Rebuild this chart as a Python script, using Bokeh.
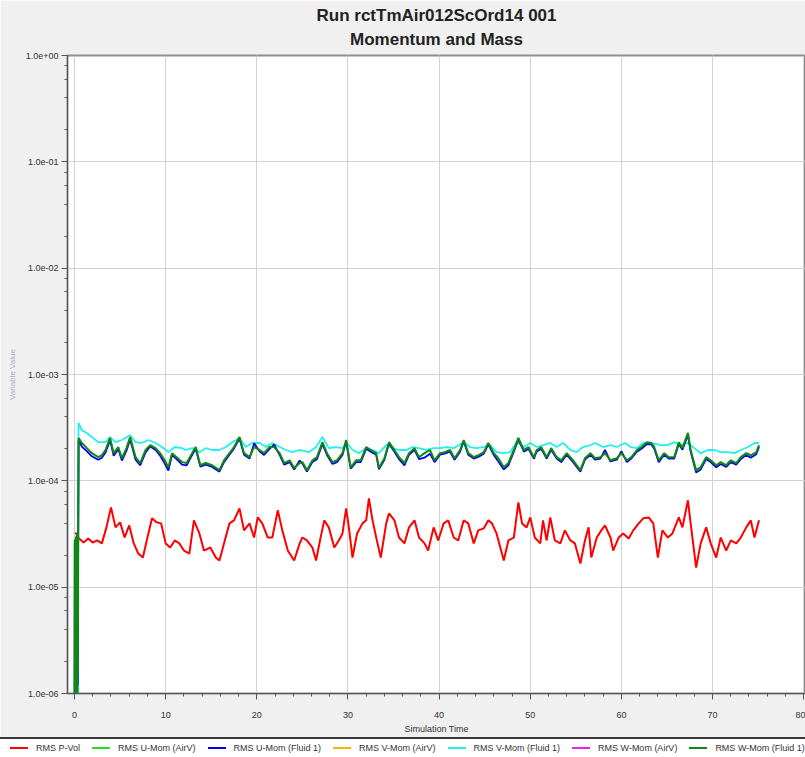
from bokeh.plotting import figure
from bokeh.models import Range1d, FixedTicker, CustomJSTickFormatter, Div, Title
from bokeh.layouts import column
from bokeh.embed import file_html
from bokeh.resources import INLINE

# ---------------------------------------------------------------- data
# RMS residual histories against simulation time

pvol_t = [0.1, 0.5, 1.0, 1.5, 2.0, 2.5, 3.0, 3.5, 4.0, 4.5, 5.0, 5.5, 6.0, 6.5, 7.0, 7.5,
          8.0, 8.5, 9.0, 9.5, 10.0, 10.5, 11.0, 11.5, 12.0, 12.6, 13.1, 13.7, 14.2, 14.9,
          15.5, 15.9, 16.4, 17.0, 17.5, 18.1, 18.6, 19.2, 19.7, 20.1, 20.6, 21.2, 21.7,
          22.3, 22.8, 23.4, 24.1, 24.7, 25.0, 25.5, 26.1, 26.5, 27.0, 27.4, 27.9, 28.5,
          29.0, 29.4, 29.8, 30.1, 30.5, 31.0, 31.6, 32.0, 32.3, 32.7, 33.1, 33.6, 34.2,
          34.5, 35.1, 35.6, 36.2, 36.7, 37.3, 37.8, 38.4, 38.8, 39.4, 39.9, 40.5, 41.0,
          41.6, 42.1, 42.7, 43.2, 43.8, 44.3, 44.9, 45.4, 45.8, 46.3, 47.1, 47.6, 48.2,
          48.7, 49.1, 49.6, 50.0, 50.5, 51.1, 51.4, 51.8, 52.2, 52.7, 53.3, 53.8, 54.4,
          54.9, 55.5, 56.0, 56.4, 56.7, 57.3, 57.8, 58.2, 58.8, 59.1, 59.7, 60.2, 60.8,
          61.3, 61.9, 62.4, 63.0, 63.5, 64.0, 64.5, 65.1, 65.6, 66.3, 66.7, 67.3, 67.6,
          68.2, 68.7, 69.3, 69.8, 70.4, 70.9, 71.5, 72.0, 72.6, 73.1, 73.7, 74.2, 74.6, 75.1]
pvol_v = [3.27e-5, 2.87e-5, 2.63e-5, 2.87e-5, 2.63e-5, 2.75e-5, 2.58e-5, 3.65e-5, 5.63e-5,
          3.65e-5, 4.07e-5, 2.93e-5, 3.81e-5, 2.58e-5, 2.07e-5, 1.90e-5, 2.93e-5, 4.44e-5,
          4.07e-5, 3.98e-5, 2.58e-5, 2.36e-5, 2.75e-5, 2.58e-5, 2.21e-5, 2.07e-5, 4.25e-5,
          3.20e-5, 2.21e-5, 2.36e-5, 1.90e-5, 1.78e-5, 2.58e-5, 3.98e-5, 4.25e-5, 5.51e-5,
          3.42e-5, 3.98e-5, 2.93e-5, 4.53e-5, 3.98e-5, 2.93e-5, 2.93e-5, 5.28e-5, 3.42e-5,
          2.21e-5, 1.78e-5, 2.58e-5, 2.93e-5, 2.75e-5, 2.36e-5, 1.78e-5, 2.93e-5, 4.25e-5,
          3.65e-5, 2.36e-5, 2.75e-5, 3.20e-5, 5.51e-5, 3.65e-5, 1.90e-5, 3.20e-5, 3.98e-5,
          4.25e-5, 6.85e-5, 4.25e-5, 2.93e-5, 1.90e-5, 3.98e-5, 4.94e-5, 4.25e-5, 2.93e-5,
          2.58e-5, 3.65e-5, 4.25e-5, 2.93e-5, 2.58e-5, 2.21e-5, 3.65e-5, 2.75e-5, 3.98e-5,
          4.25e-5, 2.93e-5, 2.75e-5, 4.25e-5, 3.98e-5, 2.58e-5, 3.42e-5, 3.57e-5, 4.25e-5,
          3.98e-5, 3.20e-5, 1.78e-5, 2.75e-5, 2.93e-5, 6.28e-5, 3.98e-5, 3.65e-5, 4.53e-5,
          2.93e-5, 2.58e-5, 4.25e-5, 2.75e-5, 4.53e-5, 2.75e-5, 2.58e-5, 3.42e-5, 2.75e-5,
          2.58e-5, 1.67e-5, 2.75e-5, 3.65e-5, 1.90e-5, 2.93e-5, 3.42e-5, 3.81e-5, 2.93e-5,
          2.21e-5, 2.93e-5, 3.20e-5, 2.87e-5, 3.42e-5, 3.98e-5, 4.44e-5, 4.53e-5, 3.98e-5,
          1.90e-5, 3.42e-5, 2.93e-5, 3.20e-5, 4.53e-5, 3.65e-5, 6.56e-5, 3.98e-5, 1.53e-5,
          2.58e-5, 3.65e-5, 2.58e-5, 1.90e-5, 2.93e-5, 2.21e-5, 2.75e-5, 2.58e-5, 2.93e-5,
          3.65e-5, 4.25e-5, 2.93e-5, 4.25e-5]

# U- and W-momentum (Fluid 1) share the same output times
fluid_t = [0.0, 0.03, 0.06, 0.09, 0.12, 0.15, 0.18, 0.21, 0.24, 0.27, 0.30, 0.33, 0.36, 0.40,
           0.45, 0.8, 1.35, 1.9, 2.6, 3.0, 3.4, 3.9, 4.3, 4.8, 5.2, 5.7, 6.1, 6.7, 7.2, 7.8,
           8.3, 8.9, 9.4, 9.9, 10.3, 10.7, 11.2, 11.8, 12.3, 12.9, 13.3, 13.8, 14.4, 15.1,
           15.9, 16.4, 17.0, 17.5, 18.1, 18.6, 19.2, 19.7, 20.3, 20.8, 21.4, 21.9, 22.5,
           23.0, 23.6, 24.1, 24.7, 25.0, 25.5, 26.1, 26.6, 27.2, 27.7, 28.3, 28.8, 29.4,
           29.8, 30.3, 30.9, 31.4, 32.0, 32.5, 33.1, 33.4, 34.0, 34.5, 35.1, 35.6, 36.2,
           36.7, 37.3, 37.8, 38.4, 39.0, 39.5, 40.1, 40.6, 41.2, 41.7, 42.3, 42.7, 43.2,
           43.8, 44.3, 44.9, 45.4, 46.0, 46.5, 47.1, 47.6, 48.2, 48.7, 49.3, 49.8, 50.4,
           50.7, 51.2, 51.8, 52.3, 52.9, 53.4, 54.0, 54.7, 55.5, 56.0, 56.6, 57.1, 57.7,
           58.2, 58.8, 59.5, 60.0, 60.6, 61.1, 61.7, 62.2, 62.8, 63.3, 63.6, 64.1, 64.7,
           65.2, 65.8, 66.3, 66.7, 67.3, 67.6, 68.2, 68.7, 69.3, 69.8, 70.4, 70.9, 71.5,
           72.0, 72.6, 73.1, 73.7, 74.2, 74.8, 75.1]
wmom_v = [4e-7, 2.8e-5, 5e-7, 1.5e-5, 4e-7, 3.0e-5, 6e-7, 2.0e-5, 5e-7, 3.2e-5, 8e-7, 2.5e-5,
          1.5e-6, 3.0e-5,
          2.53e-4, 2.27e-4, 2.03e-4, 1.82e-4, 1.67e-4, 1.74e-4, 1.95e-4, 2.53e-4, 1.82e-4,
          2.08e-4, 1.63e-4, 2.03e-4, 2.58e-4, 1.67e-4, 1.47e-4, 1.95e-4, 2.17e-4, 2.03e-4,
          1.82e-4, 1.56e-4, 1.34e-4, 1.82e-4, 1.67e-4, 1.50e-4, 1.47e-4, 1.82e-4, 2.08e-4,
          1.40e-4, 1.47e-4, 1.40e-4, 1.26e-4, 1.56e-4, 1.82e-4, 2.08e-4, 2.58e-4, 1.82e-4,
          1.67e-4, 2.08e-4, 1.95e-4, 1.82e-4, 2.08e-4, 2.08e-4, 1.82e-4, 1.47e-4, 1.56e-4,
          1.32e-4, 1.47e-4, 1.50e-4, 1.26e-4, 1.56e-4, 1.67e-4, 2.31e-4, 1.82e-4, 1.50e-4,
          1.56e-4, 1.82e-4, 2.42e-4, 1.34e-4, 1.56e-4, 1.56e-4, 2.08e-4, 1.95e-4, 1.82e-4,
          1.32e-4, 1.63e-4, 2.31e-4, 1.95e-4, 1.67e-4, 1.47e-4, 1.82e-4, 2.03e-4, 1.67e-4,
          1.82e-4, 1.95e-4, 1.56e-4, 1.82e-4, 1.86e-4, 1.95e-4, 1.63e-4, 1.95e-4, 2.42e-4,
          1.82e-4, 1.67e-4, 1.74e-4, 1.86e-4, 2.27e-4, 1.82e-4, 1.63e-4, 1.34e-4, 1.47e-4,
          1.95e-4, 2.53e-4, 1.95e-4, 2.08e-4, 1.67e-4, 1.95e-4, 2.08e-4, 1.67e-4, 2.03e-4,
          1.67e-4, 1.56e-4, 1.82e-4, 1.56e-4, 1.26e-4, 1.63e-4, 1.82e-4, 1.63e-4, 1.67e-4,
          1.82e-4, 1.56e-4, 1.63e-4, 1.82e-4, 1.56e-4, 1.67e-4, 1.95e-4, 2.08e-4, 2.31e-4,
          2.27e-4, 2.08e-4, 1.56e-4, 1.82e-4, 1.67e-4, 1.67e-4, 2.31e-4, 2.03e-4, 2.82e-4,
          1.95e-4, 1.26e-4, 1.34e-4, 1.67e-4, 1.56e-4, 1.40e-4, 1.50e-4, 1.40e-4, 1.56e-4,
          1.47e-4, 1.67e-4, 1.82e-4, 1.74e-4, 1.86e-4, 2.17e-4]
umom_v = [5e-7, 2.6e-5, 4e-7, 1.8e-5, 5e-7, 2.7e-5, 5e-7, 2.2e-5, 6e-7, 3.0e-5, 7e-7, 2.4e-5,
          1.2e-6, 2.8e-5,
          2.45e-4, 2.10e-4, 1.90e-4, 1.70e-4, 1.58e-4, 1.65e-4, 1.85e-4, 2.40e-4, 1.72e-4,
          1.98e-4, 1.55e-4, 1.92e-4, 2.45e-4, 1.58e-4, 1.40e-4, 1.85e-4, 2.10e-4, 1.95e-4,
          1.72e-4, 1.45e-4, 1.25e-4, 1.75e-4, 1.60e-4, 1.42e-4, 1.40e-4, 1.75e-4, 2.00e-4,
          1.36e-4, 1.42e-4, 1.35e-4, 1.22e-4, 1.50e-4, 1.76e-4, 2.02e-4, 2.50e-4, 1.76e-4,
          1.62e-4, 2.25e-4, 1.90e-4, 1.75e-4, 2.00e-4, 2.20e-4, 1.75e-4, 1.42e-4, 1.50e-4,
          1.28e-4, 1.55e-4, 1.45e-4, 1.22e-4, 1.50e-4, 1.60e-4, 2.22e-4, 1.75e-4, 1.44e-4,
          1.50e-4, 1.75e-4, 2.35e-4, 1.30e-4, 1.50e-4, 1.50e-4, 2.00e-4, 1.88e-4, 1.76e-4,
          1.28e-4, 1.58e-4, 2.25e-4, 1.88e-4, 1.60e-4, 1.40e-4, 1.76e-4, 1.96e-4, 1.60e-4,
          1.65e-4, 1.80e-4, 1.50e-4, 1.76e-4, 1.80e-4, 1.88e-4, 1.58e-4, 1.88e-4, 2.35e-4,
          1.76e-4, 1.62e-4, 1.68e-4, 1.80e-4, 2.20e-4, 1.75e-4, 1.52e-4, 1.28e-4, 1.40e-4,
          1.88e-4, 2.45e-4, 1.88e-4, 2.00e-4, 1.62e-4, 1.88e-4, 2.00e-4, 1.62e-4, 1.96e-4,
          1.62e-4, 1.50e-4, 1.76e-4, 1.50e-4, 1.22e-4, 1.58e-4, 1.76e-4, 1.58e-4, 1.62e-4,
          1.95e-4, 1.52e-4, 1.58e-4, 1.90e-4, 1.50e-4, 1.62e-4, 1.88e-4, 2.00e-4, 2.22e-4,
          2.20e-4, 2.00e-4, 1.50e-4, 1.76e-4, 1.62e-4, 1.62e-4, 2.22e-4, 1.96e-4, 2.70e-4,
          1.88e-4, 1.20e-4, 1.28e-4, 1.60e-4, 1.50e-4, 1.34e-4, 1.44e-4, 1.35e-4, 1.50e-4,
          1.42e-4, 1.60e-4, 1.75e-4, 1.65e-4, 1.78e-4, 2.08e-4]

vmom_t = [0.0, 0.1, 0.2, 0.3, 0.38, 0.44, 0.8, 1.35, 1.9, 2.6, 3.4, 3.9, 4.5, 5.2, 6.1, 6.7,
          7.4, 8.1, 8.9, 9.6, 10.3, 11.0, 11.8, 12.2, 12.9, 13.7, 14.4, 15.1, 15.9, 16.6,
          17.3, 18.1, 18.8, 19.5, 20.3, 21.0, 21.7, 22.5, 23.2, 23.9, 24.7, 25.7, 26.5,
          27.2, 27.9, 28.7, 29.4, 29.9, 30.5, 31.2, 32.0, 32.7, 33.4, 34.2, 34.9, 35.6,
          36.4, 37.1, 37.8, 38.6, 39.4, 40.1, 40.8, 41.6, 42.7, 43.4, 44.1, 44.9, 45.6,
          46.3, 47.1, 47.8, 48.5, 49.3, 50.0, 50.7, 51.4, 52.2, 52.9, 53.6, 54.4, 55.1,
          55.8, 56.6, 57.1, 58.0, 58.8, 59.5, 60.4, 61.0, 61.7, 62.4, 63.2, 64.3, 65.1,
          65.8, 66.5, 67.3, 68.0, 68.7, 69.5, 70.2, 70.9, 71.7, 72.4, 73.1, 73.9, 74.6, 75.1]
vmom_v = [5e-7, 1.3e-6, 6e-7, 1.5e-6, 8e-7, 3.50e-4, 3.00e-4, 2.82e-4, 2.58e-4, 2.31e-4,
          2.31e-4, 2.58e-4, 2.31e-4, 2.42e-4, 2.70e-4, 2.31e-4, 2.27e-4, 2.42e-4, 2.27e-4,
          2.08e-4, 1.86e-4, 2.08e-4, 2.03e-4, 1.95e-4, 2.03e-4, 1.86e-4, 2.03e-4, 1.95e-4,
          1.95e-4, 2.08e-4, 2.31e-4, 2.53e-4, 2.08e-4, 2.27e-4, 2.27e-4, 2.08e-4, 2.27e-4,
          2.08e-4, 1.95e-4, 1.86e-4, 1.95e-4, 1.86e-4, 2.08e-4, 2.58e-4, 2.03e-4, 2.08e-4,
          2.03e-4, 2.27e-4, 1.95e-4, 1.82e-4, 2.03e-4, 1.95e-4, 1.82e-4, 2.17e-4, 2.03e-4,
          1.95e-4, 1.95e-4, 2.08e-4, 2.03e-4, 1.95e-4, 2.03e-4, 2.03e-4, 2.08e-4, 2.03e-4,
          2.31e-4, 2.08e-4, 2.03e-4, 2.08e-4, 2.17e-4, 1.86e-4, 1.82e-4, 1.86e-4, 2.31e-4,
          2.08e-4, 2.27e-4, 2.08e-4, 2.17e-4, 2.27e-4, 2.08e-4, 2.27e-4, 1.95e-4, 1.86e-4,
          2.08e-4, 2.17e-4, 2.27e-4, 2.08e-4, 2.17e-4, 2.08e-4, 2.27e-4, 2.08e-4, 2.03e-4,
          2.27e-4, 2.27e-4, 2.17e-4, 2.17e-4, 2.31e-4, 2.17e-4, 2.27e-4, 2.03e-4, 1.82e-4,
          1.95e-4, 1.95e-4, 1.86e-4, 1.86e-4, 1.82e-4, 1.95e-4, 2.08e-4, 2.27e-4, 2.27e-4]

x_ticks = [0, 10, 20, 30, 40, 50, 60, 70, 80]
y_ticks = [1e-6, 1e-5, 1e-4, 1e-3, 1e-2, 1e-1, 1.0]

series_names = ["RMS P-Vol", "RMS U-Mom (AirV)", "RMS U-Mom (Fluid 1)", "RMS V-Mom (AirV)",
                "RMS V-Mom (Fluid 1)", "RMS W-Mom (AirV)", "RMS W-Mom (Fluid 1)"]
series_colors = ["#ff0000", "#22e022", "#0000ee", "#f5b800", "#22f0f0", "#ee22ee", "#118811"]

assert len(pvol_t) == len(pvol_v)
assert len(fluid_t) == len(wmom_v) == len(umom_v)
assert len(vmom_t) == len(vmom_v)

# ---------------------------------------------------------------- figure
FONT = "Liberation Sans"
PANEL = "#f0f0f0"

p = figure(width=805, height=737, x_range=Range1d(-0.77, 80.2), y_range=Range1d(1e-6, 1.0),
           y_axis_type="log", output_backend="svg", toolbar_location=None,
           min_border_left=67, min_border_right=0, min_border_top=55, min_border_bottom=44,
           background_fill_color="white", border_fill_color=PANEL,
           outline_line_color="#8c8c8c", outline_line_width=2, margin=(0, 0, 0, 0))

title_style = dict(align="center", text_font=FONT, text_font_size="17px",
                   text_font_style="bold", text_color="#222222")
p.title = Title(text="Run rctTmAir012ScOrd14 001", standoff=0, **title_style)
p.add_layout(Title(text="Momentum and Mass", standoff=10, vertical_align="top",
                   **title_style), "above")

x_minor = [v for v in range(0, 81, 2) if v % 10]
y_minor = [m * 10.0 ** e for e in range(-6, 0) for m in (2, 4, 6, 8)]

p.xaxis.ticker = FixedTicker(ticks=x_ticks, minor_ticks=x_minor)
p.yaxis.ticker = FixedTicker(ticks=y_ticks, minor_ticks=y_minor)
p.xgrid.ticker = FixedTicker(ticks=x_ticks)
p.ygrid.ticker = FixedTicker(ticks=y_ticks)
p.yaxis.formatter = CustomJSTickFormatter(
    code="return tick.toExponential(1).replace(/e([+-])(\\d)$/, 'e$10$2');")

for ax in (p.xaxis[0], p.yaxis[0]):
    ax.axis_line_color = "#555555"
    ax.major_tick_line_color = "#555555"
    ax.minor_tick_line_color = "#555555"
    ax.major_tick_out = 6
    ax.major_tick_in = 0
    ax.minor_tick_out = 3
    ax.minor_tick_in = 0
    ax.major_label_text_font = FONT
    ax.major_label_text_font_size = "9px"
    ax.major_label_text_color = "#333333"

p.xaxis.axis_label = "Simulation Time"
p.xaxis.axis_label_text_font = FONT
p.xaxis.axis_label_text_font_size = "9px"
p.xaxis.axis_label_text_font_style = "normal"
p.xaxis.axis_label_text_color = "#333333"
p.xaxis.major_label_standoff = 12
p.xaxis.axis_label_standoff = 3

p.yaxis.axis_label = "Variable Value"
p.yaxis.axis_label_text_font = FONT
p.yaxis.axis_label_text_font_size = "8px"
p.yaxis.axis_label_text_font_style = "normal"
p.yaxis.axis_label_text_color = "#a7aec8"
p.yaxis.axis_label_standoff = 6
p.yaxis.major_label_standoff = 3

p.grid.grid_line_color = "#d2d2d2"
p.grid.grid_line_width = 1

p.line(pvol_t, pvol_v, line_color=series_colors[0], line_width=2)
p.line(vmom_t, vmom_v, line_color=series_colors[4], line_width=1.8)
p.line(fluid_t, umom_v, line_color=series_colors[2], line_width=1.8)
p.line(fluid_t, wmom_v, line_color=series_colors[6], line_width=2)

# ---------------------------------------------------------------- legend strip
entry = ('<span style="display:inline-flex;align-items:center;margin-left:{gap}px">'
         '<span style="display:inline-block;width:18px;height:2px;background:{color};'
         'margin-right:8px"></span>{name}</span>')
entries = "".join(entry.format(gap=10 if i == 0 else 12, color=c, name=n)
                  for i, (n, c) in enumerate(zip(series_names, series_colors)))
strip = Div(text=('<div style="box-sizing:border-box;width:805px;height:20px;background:#fff;'
                  'border-top:2px solid #3a3a3a;display:flex;align-items:center;'
                  "font-family:'Liberation Sans';font-size:9px;color:#333;"
                  'white-space:nowrap;overflow:hidden">' + entries + '</div>'),
            width=805, height=20, margin=(0, 0, 0, 0))

layout = column(p, strip, spacing=0)

open("out.html", "w").write(file_html(layout, INLINE))
